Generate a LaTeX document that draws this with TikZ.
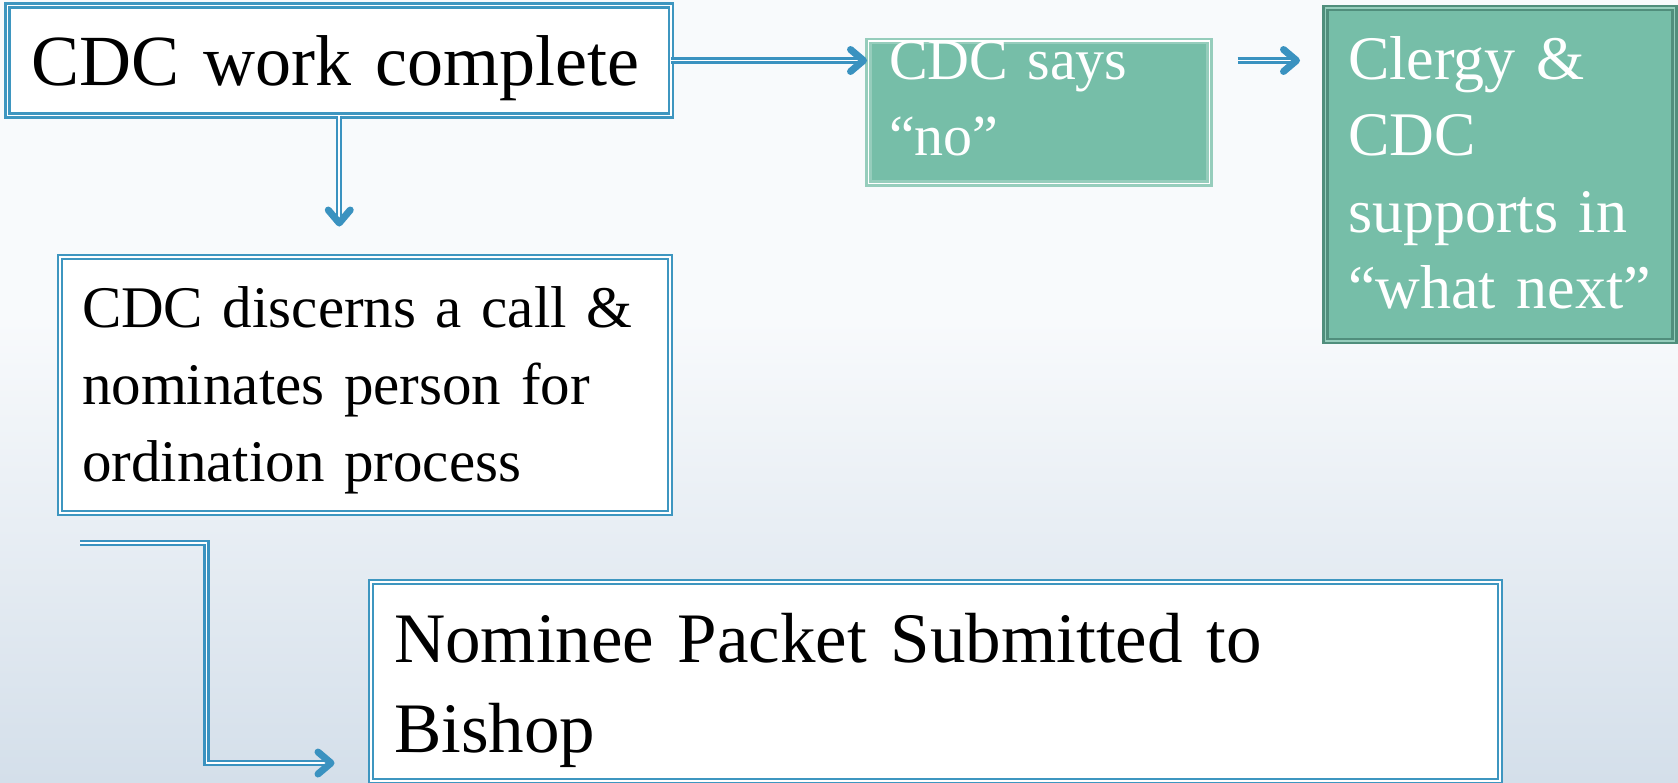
\documentclass[tikz,border=0pt]{standalone}
\usepackage{fontspec}
\setmainfont{Liberation Serif}
\definecolor{bdblue}{RGB}{62,150,192}
\definecolor{arblue}{RGB}{58,146,192}
\definecolor{grfill}{RGB}{118,190,168}
\definecolor{grlight}{RGB}{150,205,188}
\definecolor{grdark}{RGB}{80,142,124}
\definecolor{bgtop}{RGB}{248,250,252}
\definecolor{bgbot}{RGB}{212,223,234}
\begin{document}
\begin{tikzpicture}[x=1pt,y=-1pt,
  boxbase/.style={anchor=north west, inner ysep=0pt, outer sep=0pt, align=left, line width=2.2pt, double distance=1.8pt},
  whitebox/.style={boxbase, draw=bdblue, double=white, fill=white, text=black},
  greenbox/.style={boxbase, draw=grlight, double=white, fill=grfill, text=white},
  darkbox/.style={boxbase, draw=grdark, double=grlight, fill=grfill, text=white},
  conn/.style={draw=arblue, line width=2.2pt, double=white, double distance=1.8pt, line join=miter},
  chev/.style={draw=arblue, line width=7pt, line cap=round, line join=round}
]
\useasboundingbox (0,0) rectangle (1678,782);
\fill[bgtop] (0,0) rectangle (1678,782);
\shade[top color=bgtop, bottom color=bgbot] (0,320) rectangle (1678,782);

\node[whitebox, inner xsep=24pt, text width=615.5pt, text height=79.5pt, text depth=30.5pt, font=\fontsize{72}{80}\selectfont] (b1) at (7.5,5.5) {CDC~work~complete};
\node[greenbox, inner xsep=20.5pt, text width=300pt, text height=38.3pt, text depth=104.5pt, font=\fontsize{58}{76}\selectfont] (b2) at (868.5,40.7) {CDC~says\\``no''};
\node[darkbox, inner xsep=22.5pt, text width=304pt, text height=71pt, text depth=262pt, font=\fontsize{62}{76.5}\selectfont] (b3) at (1325.5,8) {Clergy~\&\\CDC\\supports~in\\``what~next''};
\node[whitebox, inner xsep=22pt, text width=566pt, text height=70pt, text depth=186pt, font=\fontsize{59}{77}\selectfont] (b4) at (60,257) {CDC~discerns~a~call~\&\\nominates~person~for\\ordination~process};
\node[whitebox, inner xsep=23pt, text width=1083pt, text height=80pt, text depth=119pt, font=\fontsize{71}{90}\selectfont] (b5) at (371,582) {Nominee~Packet~Submitted~to\\Bishop};

% connector end points
\path (b1.east -| b2.west) coordinate (t1a);
\coordinate (t1) at ([xshift=-5pt]t1a);
\path (b2.east |- b1.east) coordinate (s2a);
\coordinate (s2) at ([xshift=28pt]s2a);
\path (b1.east -| b3.west) coordinate (t2a);
\coordinate (t2) at ([xshift=-29pt]t2a);
\path (b1.south |- b4.north) coordinate (t3a);
\coordinate (t3) at ([yshift=34pt]t3a);
\coordinate (e1) at (80,543);
\coordinate (e2) at (206.5,763);
\path (e2 -| b5.west) coordinate (t4a);
\coordinate (t4) at ([xshift=-40pt]t4a);

\draw[conn, shorten >=3pt] (b1.east) -- (t1);
\draw[chev] ([xshift=-13pt,yshift=11pt]t1) -- (t1) -- ([xshift=-13pt,yshift=-11pt]t1);
\draw[conn, shorten >=3pt] (s2) -- (t2);
\draw[chev] ([xshift=-13pt,yshift=11pt]t2) -- (t2) -- ([xshift=-13pt,yshift=-11pt]t2);
\draw[conn, shorten >=3pt] (b1.south) -- (t3);
\draw[chev] ([xshift=-11pt,yshift=13pt]t3) -- (t3) -- ([xshift=11pt,yshift=13pt]t3);
\draw[conn, shorten >=3pt] (e1) -| (e2) -- (t4);
\draw[chev] ([xshift=-13pt,yshift=11pt]t4) -- (t4) -- ([xshift=-13pt,yshift=-11pt]t4);
\end{tikzpicture}
\end{document}
